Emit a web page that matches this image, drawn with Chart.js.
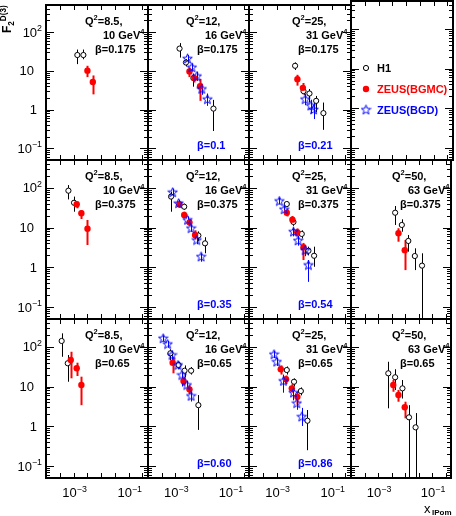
<!DOCTYPE html>
<html>
<head>
<meta charset="utf-8">
<script src="https://cdn.jsdelivr.net/npm/chart.js@4.4.0/dist/chart.umd.min.js"></script>
<style>
  html, body { margin: 0; padding: 0; background: #fff; }
  #wrap { position: relative; width: 456px; height: 516px; overflow: hidden; }
  #wrap canvas { position: absolute; left: 0; top: 0; }
</style>
</head>
<body>
<div id="wrap"></div>
<script>
// Panel labels (4 columns = Q2 bins, 3 rows = beta bins)
const q2Text = ['Q^2=8.5,', 'Q^2=12,', 'Q^2=25,', 'Q^2=50,'];
const gevText = ['10 GeV^4', '16 GeV^4', '31 GeV^4', '63 GeV^4'];
const betaH1 = ['0.175', '0.375', '0.65'];
const betaBGD = [
    ['', '0.1', '0.21', ''],
    ['', '0.35', '0.54', ''],
    ['', '0.60', '0.86', '']
];
const yTickLabels = ['10^{−1}', '1', '10', '10^2'];
const yTickValues = [0.1, 1, 10, 100];
const xTickLabels = ['10^{−3}', '10^{−1}'];
const xTickValues = [1e-3, 1e-1];

// Points per panel (row-major, 12 panels): [x_IPom, F2, errLow, errHigh]
const h1Points = [
    [[1.37e-3, 25.6, 14.9, 35.4], [2.27e-3, 25.6, 19.9, 35.4]],
    [[1.43e-3, 37.5, 22, 52], [2.45e-3, 16.4, 13, 20], [4.6e-3, 6.5, 3.9, 8.5], [2.5e-2, 1.06, 0.28, 1.78]],
    [[4.7e-3, 13.5, 10.5, 16.5], [9.5e-3, 3.0, 2.4, 3.6], [1.56e-2, 2.6, 1.52, 3.4], [2.73e-2, 1.68, 0.85, 2.25], [5.0e-2, 0.81, 0.3, 1.52]],
    [],
    [[6.5e-4, 84.5, 51, 117], [1.04e-3, 42, 25, 60]],
    [[7.0e-4, 60, 25, 80], [2.12e-3, 33.4, 28, 40], [7.0e-3, 6.3, 4.6, 8.0], [1.23e-2, 4.0, 2.25, 5.7]],
    [[2.35e-3, 39, 33, 45], [4.1e-3, 13.8, 11, 17], [8.2e-3, 6.9, 5.3, 8.5], [1.43e-2, 2.6, 2.0, 3.3], [2.3e-2, 1.95, 1.03, 3.3]],
    [[4.3e-3, 23.6, 11.6, 34.8], [7.6e-3, 11.6, 7.85, 16.1], [1.32e-2, 4.6, 2.47, 6.5], [2.3e-2, 1.92, 0.85, 3.0], [4.25e-2, 1.1, 0.01, 2.25]],
    [[3.7e-4, 140, 56, 218], [6.15e-4, 38.5, 13.2, 62]],
    [[6.6e-4, 68.5, 46.5, 86.5], [1.32e-3, 34.8, 28, 42], [2.18e-3, 25, 17, 34], [3.8e-3, 25, 20, 31], [7.0e-3, 3.4, 0.81, 6.1]],
    [[2.35e-3, 26, 20, 32], [4.3e-3, 13.2, 10, 16], [7.6e-3, 7.7, 6, 9.5], [1.32e-2, 1.38, 0.25, 2.57]],
    [[2.4e-3, 21.5, 2.83, 42], [4.3e-3, 17.1, 8.2, 27.2], [8.0e-3, 9.0, 5.0, 14.6], [1.4e-2, 1.68, 0.01, 3.4], [2.45e-2, 0.94, 0.01, 2.15]]
];
const bgmcPoints = [
    [[3.18e-3, 10.1, 6.9, 13.5], [4.99e-3, 5.15, 2.47, 7.6]],
    [[3.3e-3, 9.6, 6.9, 12.3], [5.0e-3, 6.5, 5.0, 8.0], [8.1e-3, 4.0, 1.68, 6.2]],
    [[5.7e-3, 6.1, 4.15, 7.9], [9.0e-3, 3.64, 2.47, 4.85]],
    [],
    [[1.3e-3, 38.5, 30.5, 44.7], [1.92e-3, 22.8, 16.4, 27.6], [3.2e-3, 9.35, 3.64, 15.5]],
    [[1.4e-3, 38.5, 31, 46], [2.12e-3, 20.7, 17, 25], [3.3e-3, 13.5, 11, 16.5], [5.3e-3, 6.5, 5, 8.5]],
    [[2.35e-3, 23.6, 19, 29], [3.76e-3, 15.8, 12.5, 19.5], [5.6e-3, 7.6, 6, 9.5], [9.45e-3, 3.2, 1.52, 4.1]],
    [[5.7e-3, 7.2, 4.4, 9.6], [9.75e-3, 2.7, 0.85, 4.85]],
    [[7.9e-4, 46.5, 16.1, 75], [1.3e-3, 28.8, 18.4, 39.8], [1.92e-3, 10.9, 3.4, 17.7]],
    [[8.0e-4, 39.8, 21.5, 56], [2.0e-3, 13.8, 10.5, 17.5], [3.3e-3, 8.5, 6.5, 10.8]],
    [[1.42e-3, 27.2, 20, 34], [2.2e-3, 15.2, 11.5, 19], [3.57e-3, 9.0, 7, 11.5], [5.7e-3, 5.5, 3.5, 7.3]],
    [[3.66e-3, 10.9, 7.4, 14.6], [5.7e-3, 6.1, 4.15, 8.2], [9.75e-3, 3.0, 1.59, 4.15]]
];
const bgdPoints = [
    [],
    [[2.8e-3, 20.7, 16.5, 25.5], [4.05e-3, 12.3, 9.5, 15.5], [6.15e-3, 7.3, 5.5, 9.5], [9.35e-3, 3.4, 2.4, 4.6], [1.5e-2, 1.85, 1.25, 2.6]],
    [[1.09e-2, 1.85, 1.3, 2.6], [1.75e-2, 1.26, 0.8, 1.8], [2.2e-2, 1.0, 0.57, 1.5]],
    [],
    [],
    [[8.0e-4, 77, 62, 95], [1.32e-3, 40.7, 33, 50], [2.8e-3, 15.5, 12.5, 19], [3.8e-3, 9.6, 7.8, 11.8], [6.1e-3, 4.85, 3.8, 6.2], [8.8e-3, 1.85, 1.38, 2.25]],
    [[1.26e-3, 46.5, 38, 56], [1.88e-3, 28.8, 23, 35], [4.1e-3, 7.85, 6, 10], [6.05e-3, 4.7, 3.5, 6.2], [1.09e-2, 2.7, 1.9, 3.6], [1.43e-2, 1.14, 0.43, 1.52]],
    [],
    [],
    [[3.6e-4, 163, 135, 195], [5.25e-4, 117, 95, 140], [7.6e-4, 62, 45, 80], [1.25e-3, 34.8, 27, 43], [1.75e-3, 19.5, 10, 26], [2.66e-3, 10.9, 8, 14], [3.8e-3, 5.8, 4.2, 7.5]],
    [[8.1e-4, 64.7, 52, 78], [1.02e-3, 42, 33, 52], [1.77e-3, 13.8, 7, 20], [4.1e-3, 7.0, 4.5, 9.5], [5.4e-3, 3.8, 2.6, 5.2], [8.2e-3, 1.74, 1.02, 2.9]],
    []
];

const X_MIN = 1e-4, X_MAX = Math.pow(10, -0.3);
const Y_MIN = 0.05, Y_MAX = 500;

// panel geometry (pixels)
const colLeft = [46, 148, 249, 351], colRight = [148, 249, 351, 453];
const rowTop = [1, 160, 319], rowBottom = [160, 319, 478];
const q2Offset = [39, 38, 43, 41];

const RED = '#ff0000', BLUE = '#0000ff';
const FONT = '"Liberation Sans", Arial, Helvetica, sans-serif';

// open star marker for ZEUS(BGD)
function makeStar() {
    const c = document.createElement('canvas');
    c.width = 11; c.height = 11;
    const g = c.getContext('2d');
    g.strokeStyle = BLUE; g.lineWidth = 1;
    g.beginPath();
    for (let i = 0; i < 10; i++) {
        const r = i % 2 === 0 ? 5 : 2.1;
        const a = -Math.PI / 2 + i * Math.PI / 5;
        const px = 5.5 + r * Math.cos(a), py = 5.8 + r * Math.sin(a);
        i === 0 ? g.moveTo(px, py) : g.lineTo(px, py);
    }
    g.closePath(); g.stroke();
    return c;
}
const starImg = makeStar();

// text with ^sup and _sub pieces
function drawRich(ctx, str, x, y, size, weight, align, color) {
    const parts = [];
    const re = /\^\{([^}]*)\}|\^(.)|_\{([^}]*)\}|_(.)|([^\^_]+)/g;
    let m;
    while ((m = re.exec(str))) {
        if (m[1] !== undefined || m[2] !== undefined) parts.push({ t: m[1] ?? m[2], s: 0.68, dy: -0.42 });
        else if (m[3] !== undefined || m[4] !== undefined) parts.push({ t: m[3] ?? m[4], s: 0.68, dy: 0.25 });
        else parts.push({ t: m[5], s: 1, dy: 0 });
    }
    let w = 0;
    parts.forEach(p => {
        ctx.font = `${weight} ${size * p.s}px ${FONT}`;
        p.w = ctx.measureText(p.t).width;
        w += p.w;
    });
    let cx = align === 'right' ? x - w : align === 'center' ? x - w / 2 : x;
    ctx.fillStyle = color || '#000';
    ctx.textAlign = 'left';
    ctx.textBaseline = 'alphabetic';
    parts.forEach(p => {
        ctx.font = `${weight} ${size * p.s}px ${FONT}`;
        ctx.fillText(p.t, cx, y + p.dy * size);
        cx += p.w;
    });
}

function seg(ctx, x1, y1, x2, y2) {
    ctx.beginPath(); ctx.moveTo(x1, y1); ctx.lineTo(x2, y2); ctx.stroke();
}

// vertical error bars, under the markers
const errorBars = {
    id: 'errorBars',
    beforeDatasetsDraw(chart) {
        const { ctx, chartArea: a, scales: { x, y } } = chart;
        ctx.save();
        ctx.beginPath(); ctx.rect(a.left, a.top, a.right - a.left, a.bottom - a.top); ctx.clip();
        chart.data.datasets.forEach(ds => {
            ctx.strokeStyle = ds.errColor;
            ctx.lineWidth = ds.errWidth;
            ds.data.forEach((p, i) => {
                const px = Math.round(x.getPixelForValue(p.x)) + 0.5;
                seg(ctx, px, y.getPixelForValue(ds.errLo[i]), px, y.getPixelForValue(ds.errHi[i]));
            });
        });
        ctx.restore();
    }
};

// frame, ticks, labels
const decorations = {
    id: 'decorations',
    afterDraw(chart) {
        const { ctx, chartArea: a, scales: { x, y } } = chart;
        const { row, col } = chart.options.panel;
        ctx.save();
        ctx.strokeStyle = '#000';
        ctx.lineWidth = 1;
        for (let e = -2; e <= 2; e++) {
            for (let m = 1; m <= 9; m++) {
                const v = m * Math.pow(10, e);
                if (v < Y_MIN || v > Y_MAX) continue;
                const py = Math.round(y.getPixelForValue(v)) + 0.5;
                const len = m === 1 ? 8 : 4;
                seg(ctx, a.left, py, a.left + len, py);
                seg(ctx, a.right - len, py, a.right, py);
            }
        }
        for (let k = -3.5; k <= -0.5; k += 0.5) {
            const px = Math.round(x.getPixelForValue(Math.pow(10, k))) + 0.5;
            seg(ctx, px, a.bottom, px, a.bottom - 5);
            seg(ctx, px, a.top, px, a.top + 5);
        }
        ctx.lineWidth = 2;
        ctx.strokeRect(a.left, a.top, a.right - a.left, a.bottom - a.top);

        // y tick labels on the left column
        if (col === 0) {
            const rightEdge = [42, 37, 34, 42];
            yTickValues.forEach((v, i) => {
                drawRich(ctx, yTickLabels[i], rightEdge[i], y.getPixelForValue(v) + 4.5, 13, 'normal', 'right');
            });
        }
        // x tick labels on the bottom row
        if (row === 2) {
            xTickValues.forEach((v, i) => {
                drawRich(ctx, xTickLabels[i], x.getPixelForValue(v) + 1, 497, 13, 'normal', 'center');
            });
        }
        // axis titles
        if (row === 0 && col === 0) {
            ctx.save();
            ctx.translate(11, 33);
            ctx.rotate(-Math.PI / 2);
            drawRich(ctx, 'F_2^{D(3)}', 0, 0, 12, 'bold', 'left');
            ctx.restore();
        }
        if (row === 2 && col === 3) {
            drawRich(ctx, 'x', 424, 513, 13, 'normal', 'left');
            drawRich(ctx, 'IPom', 432, 515, 8, 'bold', 'left');
        }

        // panel text or legend
        if (row === 0 && col === 3) {
            const ly = [68, 89, 110];
            ctx.lineWidth = 1;
            ctx.strokeStyle = '#000'; ctx.fillStyle = '#fff';
            ctx.beginPath(); ctx.arc(366, ly[0], 2.6, 0, 2 * Math.PI); ctx.fill(); ctx.stroke();
            ctx.fillStyle = RED;
            ctx.beginPath(); ctx.arc(366, ly[1], 3.2, 0, 2 * Math.PI); ctx.fill();
            ctx.drawImage(starImg, 366 - 5.5, ly[2] - 5.8);
            drawRich(ctx, 'H1', 377, ly[0] + 4, 11, 'bold', 'left', '#000');
            drawRich(ctx, 'ZEUS(BGMC)', 377, ly[1] + 4, 11, 'bold', 'left', RED);
            drawRich(ctx, 'ZEUS(BGD)', 377, ly[2] + 4, 11, 'bold', 'left', BLUE);
        } else {
            drawRich(ctx, q2Text[col], a.left + q2Offset[col], a.top + 19.5, 11, 'bold', 'left');
            drawRich(ctx, gevText[col], a.left + 57, a.top + 34, 11, 'bold', 'left');
            drawRich(ctx, 'β=' + betaH1[row], a.left + 49, a.top + 47.5, 11, 'bold', 'left');
        }
        if (betaBGD[row][col]) {
            drawRich(ctx, 'β=' + betaBGD[row][col], a.left + 49, a.bottom - 11, 11, 'bold', 'left', BLUE);
        }
        ctx.restore();
    }
};

function series(points, style) {
    return Object.assign({
        data: points.map(p => ({ x: p[0], y: p[1] })),
        errLo: points.map(p => p[2]),
        errHi: points.map(p => p[3])
    }, style);
}

const h1Style = { pointStyle: 'circle', pointRadius: 2.6, borderColor: '#000', backgroundColor: '#fff', borderWidth: 1, errColor: '#000', errWidth: 1, order: 3 };
const bgmcStyle = { pointStyle: 'circle', pointRadius: 3.2, borderColor: RED, backgroundColor: RED, borderWidth: 0, errColor: RED, errWidth: 2, order: 2 };
const bgdStyle = { pointStyle: starImg, borderColor: BLUE, backgroundColor: BLUE, errColor: BLUE, errWidth: 1, order: 1 };

const wrap = document.getElementById('wrap');
for (let idx = 0; idx < 12; idx++) {
    const row = Math.floor(idx / 4), col = idx % 4;
    const canvas = document.createElement('canvas');
    canvas.width = 456; canvas.height = 516;
    wrap.appendChild(canvas);
    new Chart(canvas, {
        type: 'scatter',
        data: {
            datasets: [
                series(h1Points[idx], h1Style),
                series(bgmcPoints[idx], bgmcStyle),
                series(bgdPoints[idx], bgdStyle)
            ]
        },
        options: {
            panel: { row, col },
            responsive: false,
            animation: false,
            devicePixelRatio: 1,
            events: [],
            layout: {
                padding: { left: colLeft[col], right: 456 - colRight[col], top: rowTop[row], bottom: 516 - rowBottom[row] }
            },
            scales: {
                x: { type: 'logarithmic', min: X_MIN, max: X_MAX, display: false },
                y: { type: 'logarithmic', min: Y_MIN, max: Y_MAX, display: false }
            },
            plugins: { legend: { display: false }, tooltip: { enabled: false } }
        },
        plugins: [errorBars, decorations]
    });
}
</script>
</body>
</html>
